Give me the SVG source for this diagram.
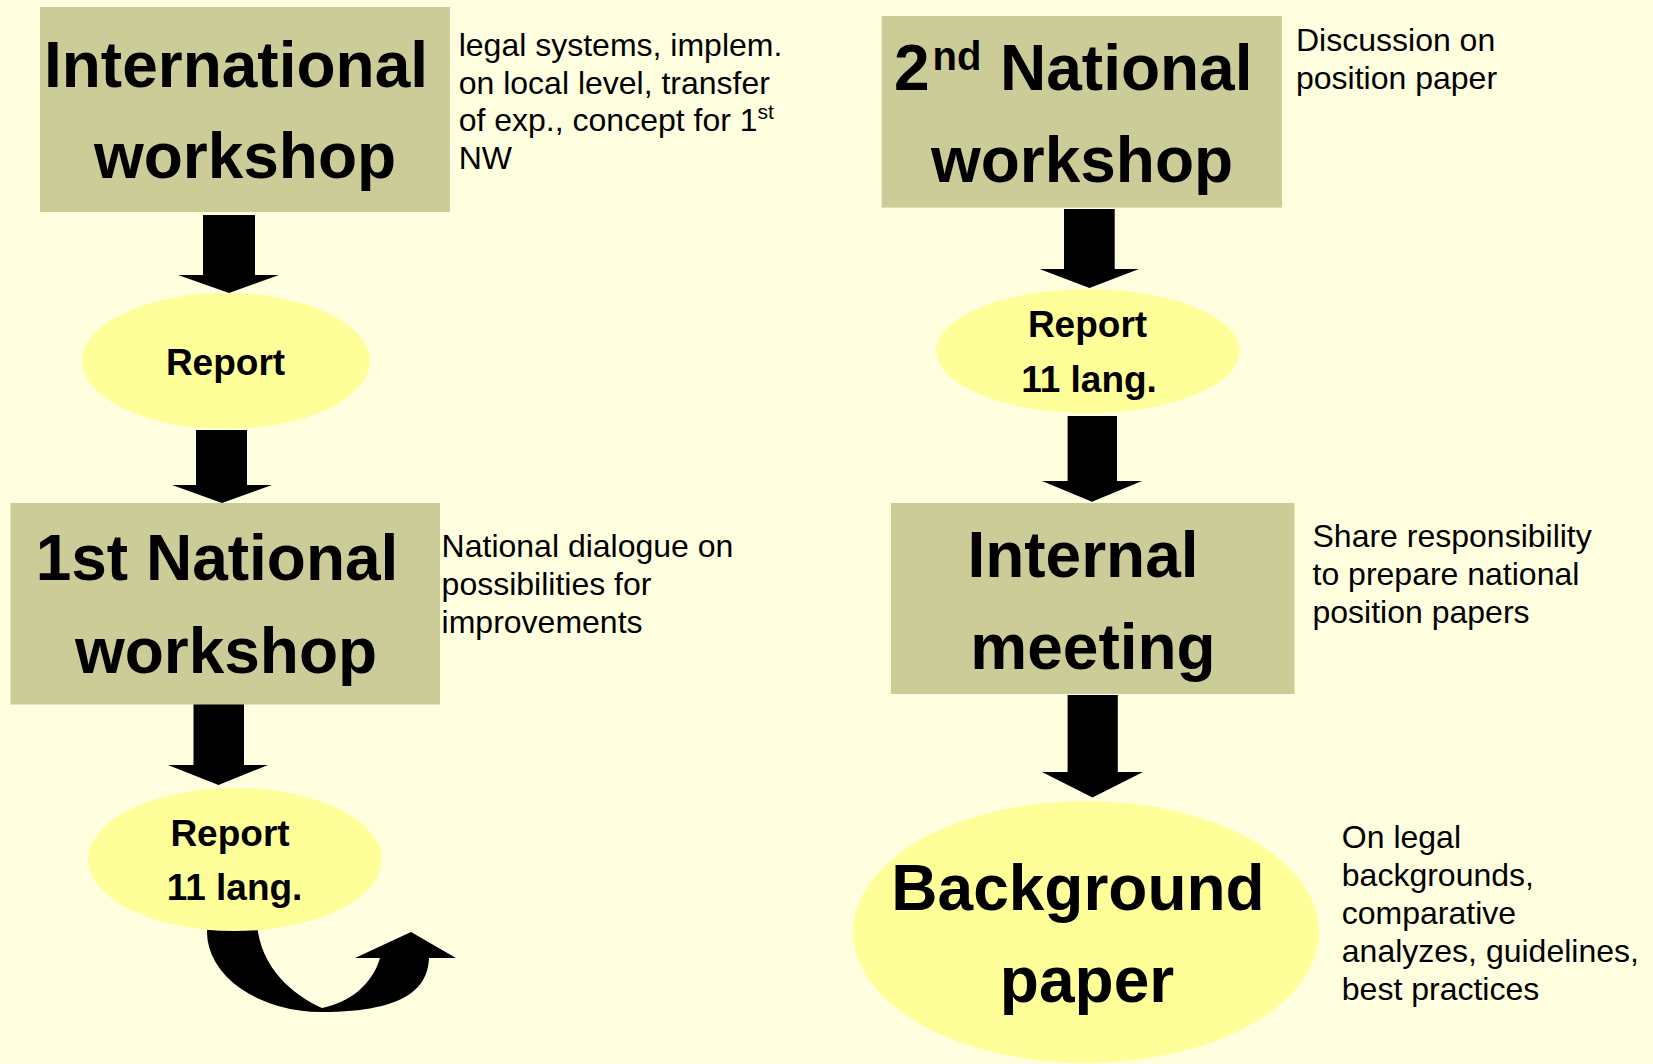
<svg xmlns="http://www.w3.org/2000/svg" width="1653" height="1064" viewBox="0 0 1653 1064">
<style>
.bg{fill:#FFFFE0}
.box{fill:#CCCC99}
.ell{fill:#FFFF99}
.arr{fill:#000}
.title{font-family:"Liberation Sans",Arial,sans-serif;font-weight:bold;font-size:64px;fill:#000;text-anchor:middle}
.rep{font-family:"Liberation Sans",Arial,sans-serif;font-weight:bold;font-size:37px;fill:#000;text-anchor:middle}
.note{font-family:"Liberation Sans",Arial,sans-serif;font-size:32px;fill:#000}
</style>
<rect class="bg" x="0" y="0" width="1653" height="1064"/>

<g id="connectors">
  <polygon class="arr" points="203,215 255,215 255,275 279,275 229,293 178,275 203,275"/>
  <polygon class="arr" points="196,430 247,430 247,485 272,485 222,503 172,485 196,485"/>
  <polygon class="arr" points="193.5,704 244,704 244,765 268,765 218.5,785 168,765 193.5,765"/>
  <polygon class="arr" points="1064,209 1114.7,209 1114.7,269 1139,269 1089.5,288 1039.5,269 1064,269"/>
  <polygon class="arr" points="1067.6,416 1117,416 1117,481 1142,481 1092,501.7 1042,481 1067.6,481"/>
  <polygon class="arr" points="1067.6,695 1117.8,695 1117.8,772 1143,772 1092.5,797.5 1042,772 1067.6,772"/>
  <path class="arr" d="M207,930 L207,932 A115 80 0 0 0 322,1012 C410,1012 428,985 429,958 L456,958 L411,932 L355,958 L380,958 C372,985 350,1002 322,1008 C300,998 265,975 258,932 L258,930 Z"/>
</g>

<g id="intl-workshop">
  <rect class="box" x="40" y="7" width="410" height="205"/>
  <text class="title" x="236" y="87">International</text>
  <text class="title" x="245" y="178">workshop</text>
</g>
<g id="intl-note">
  <text class="note" x="458.7" y="56">legal systems, implem.</text>
  <text class="note" x="458.7" y="93.5">on local level, transfer</text>
  <text class="note" x="458.7" y="131">of exp., concept for 1<tspan font-size="21" dy="-12">st</tspan></text>
  <text class="note" x="458.7" y="168.5">NW</text>
</g>

<g id="report-1">
  <ellipse class="ell" cx="226" cy="361" rx="144" ry="68"/>
  <text class="rep" x="225.5" y="375">Report</text>
</g>

<g id="first-national-workshop">
  <rect class="box" x="10.5" y="503" width="429.5" height="201.5"/>
  <text class="title" x="217" y="580">1st National</text>
  <text class="title" x="226" y="673">workshop</text>
</g>
<g id="first-note">
  <text class="note" x="441.6" y="557">National dialogue on</text>
  <text class="note" x="441.6" y="595">possibilities for</text>
  <text class="note" x="441.6" y="633">improvements</text>
</g>

<g id="report-2">
  <ellipse class="ell" cx="235" cy="859.5" rx="147" ry="71.5"/>
  <text class="rep" x="230" y="846">Report</text>
  <text class="rep" x="234.5" y="900">11 lang.</text>
</g>

<g id="second-national-workshop">
  <rect class="box" x="881.7" y="16" width="400.3" height="191.6"/>
  <text class="title" x="894" y="90" style="text-anchor:start">2<tspan font-size="40" dx="3" dy="-20">nd</tspan><tspan x="1000" dy="20">National</tspan></text>
  <text class="title" x="1082" y="181.7">workshop</text>
</g>
<g id="second-note">
  <text class="note" x="1296" y="51">Discussion on</text>
  <text class="note" x="1296" y="89">position paper</text>
</g>

<g id="report-3">
  <ellipse class="ell" cx="1088" cy="351" rx="152" ry="62"/>
  <text class="rep" x="1087.5" y="336.7">Report</text>
  <text class="rep" x="1089" y="391.7">11 lang.</text>
</g>

<g id="internal-meeting">
  <rect class="box" x="891" y="503" width="403.5" height="191"/>
  <text class="title" x="1083" y="577">Internal</text>
  <text class="title" x="1093" y="668.6">meeting</text>
</g>
<g id="internal-note">
  <text class="note" x="1312.5" y="546.7">Share responsibility</text>
  <text class="note" x="1312.5" y="585">to prepare national</text>
  <text class="note" x="1312.5" y="623">position papers</text>
</g>

<g id="background-paper">
  <ellipse class="ell" cx="1086" cy="932" rx="233" ry="131"/>
  <text class="title" x="1078" y="910">Background</text>
  <text class="title" x="1087" y="1002">paper</text>
</g>
<g id="background-note">
  <text class="note" x="1341.8" y="847.5">On legal</text>
  <text class="note" x="1341.8" y="885.7">backgrounds,</text>
  <text class="note" x="1341.8" y="923.9">comparative</text>
  <text class="note" x="1341.8" y="962.1">analyzes, guidelines,</text>
  <text class="note" x="1341.8" y="1000.3">best practices</text>
</g>
</svg>
